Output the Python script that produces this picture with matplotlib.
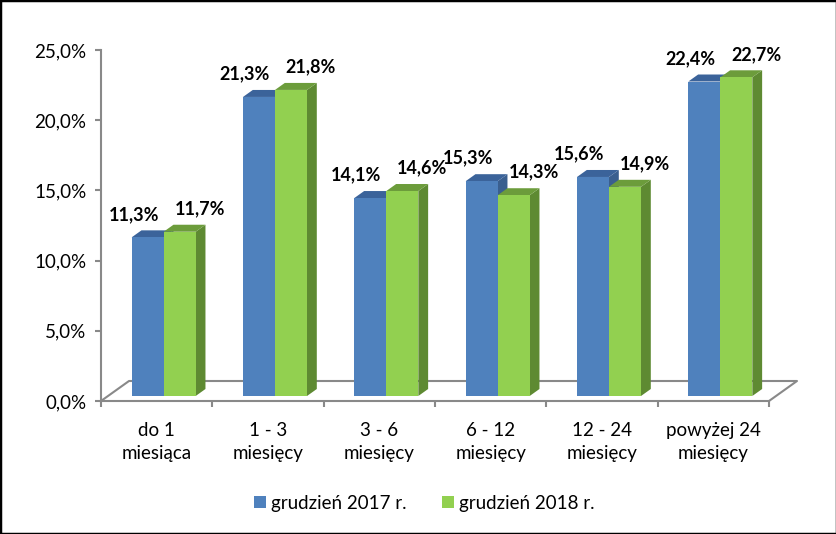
import matplotlib.pyplot as plt
from matplotlib.patches import Polygon, Rectangle

# data
categories = ['do 1\nmiesiąca', '1 - 3\nmiesięcy', '3 - 6\nmiesięcy',
              '6 - 12\nmiesięcy', '12 - 24\nmiesięcy', 'powyżej 24\nmiesięcy']
dec_2017 = [11.3, 21.3, 14.1, 15.3, 15.6, 22.4]
dec_2018 = [11.7, 21.8, 14.6, 14.3, 14.9, 22.7]
series_names = ['grudzień 2017 r.', 'grudzień 2018 r.']
yticks = [0, 5, 10, 15, 20, 25]

plt.rcParams['font.family'] = ['Lato', 'DejaVu Sans']

W, H = 837, 534
fig = plt.figure(figsize=(W / 100, H / 100), dpi=100)
ax = fig.add_axes([101 / W, 133 / H, 668 / W, 351 / H])
n = len(categories)
ax.set_xlim(0, n)
ax.set_ylim(0, 25)

# pixels per data unit, used to turn the 3d depth into data units
px_x = 668 / n
px_y = 351 / 25
dx, dy = 28 / px_x, 20 / px_y      # floor depth
f0, f1 = 0.25, 0.35                # bar front offset / bar depth (fraction of floor)
bar_w = 32 / px_x
gray = '#898989'

blue = ('#4F81BD', '#3B639A', '#3A5F8F')
green = ('#92D050', '#6C9C3B', '#5E8A32')

# floor
ax.plot([0, dx, n + dx, n], [0, dy, dy, 0], color=gray, lw=1.5, clip_on=False, zorder=1)


def bar3d(x0, h, cols):
    bx, by = x0 + f0 * dx, f0 * dy
    ddx, ddy = f1 * dx, f1 * dy
    front = [(bx, by), (bx + bar_w, by), (bx + bar_w, by + h), (bx, by + h)]
    top = [(bx, by + h), (bx + bar_w, by + h), (bx + bar_w + ddx, by + h + ddy), (bx + ddx, by + h + ddy)]
    side = [(bx + bar_w, by), (bx + bar_w + ddx, by + ddy), (bx + bar_w + ddx, by + h + ddy), (bx + bar_w, by + h)]
    for pts, c in ((side, cols[2]), (top, cols[1]), (front, cols[0])):
        ax.add_patch(Polygon(pts, closed=True, fc=c, ec='none', clip_on=False, zorder=2))
    return bx + bar_w / 2, by + h


for i in range(n):
    c = i + 0.5
    xb, yb = bar3d(c - bar_w, dec_2017[i], blue)
    xg, yg = bar3d(c, dec_2018[i], green)
    for (xx, yy, v, off) in ((xb, yb, dec_2017[i], -14), (xg, yg, dec_2018[i], 20)):
        ax.annotate(f'{v:.1f}%'.replace('.', ','), (xx, yy), xytext=(off, 23),
                    textcoords='offset pixels', ha='center', va='center',
                    fontsize=13, fontweight='bold', annotation_clip=False, zorder=5)

# axes styling
for s in ('top', 'right'):
    ax.spines[s].set_visible(False)
ax.spines['left'].set_color(gray)
ax.spines['bottom'].set_color(gray)
ax.spines['left'].set_linewidth(1.5)
ax.spines['bottom'].set_linewidth(1.5)
ax.set_yticks(yticks)
ax.set_yticklabels([f'{t:.1f}%'.replace('.', ',') for t in yticks], fontsize=13.5)
ax.set_xticks(range(n + 1))
ax.set_xticklabels([])
ax.set_xticks([i + 0.5 for i in range(n)], minor=True)
ax.set_xticklabels(categories, minor=True, fontsize=13.5, linespacing=1.45)
ax.tick_params(axis='x', which='minor', length=0, pad=15)
ax.tick_params(axis='both', which='major', color=gray, width=1.5, length=4.5)
ax.tick_params(axis='y', pad=6)
ax.patch.set_visible(False)

handles = [Rectangle((0, 0), 1, 1, fc=blue[0]), Rectangle((0, 0), 1, 1, fc=green[0])]
fig.legend(handles, series_names, loc='center', bbox_to_anchor=(424 / W, 31 / H), ncol=2,
           frameon=False, fontsize=13.5, handlelength=0.64, handleheight=0.64,
           handletextpad=0.27, columnspacing=1.9)

# black border around the picture
fig.add_artist(Rectangle((0, 0), 1, 1, transform=fig.transFigure, fill=False,
                         ec='black', lw=2.5))

fig.savefig('out.png', dpi=100)
